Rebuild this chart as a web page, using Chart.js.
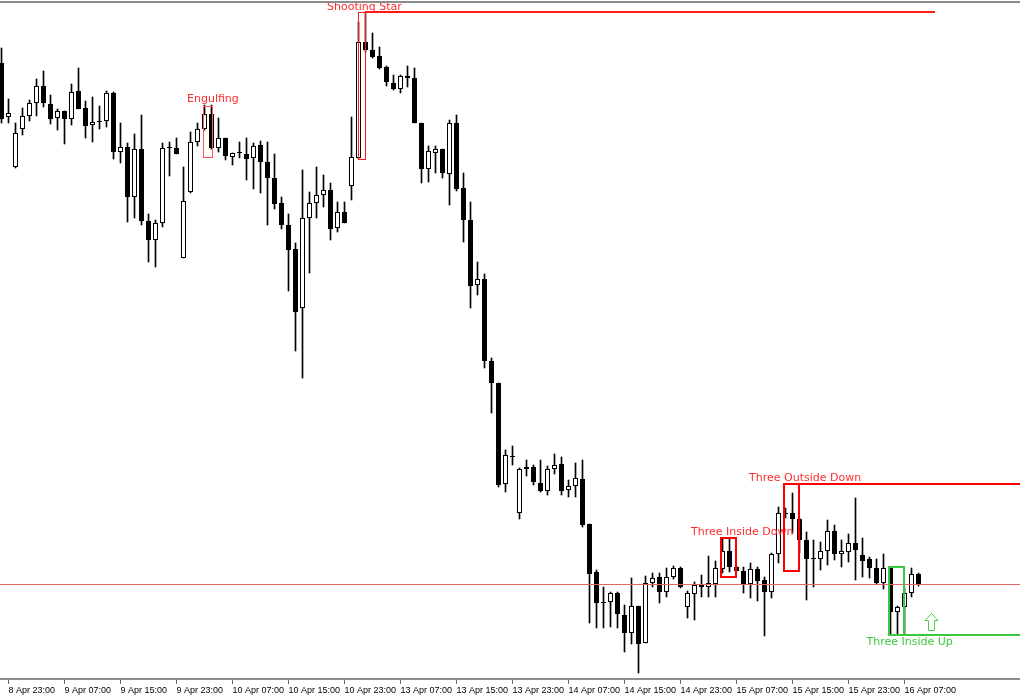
<!DOCTYPE html>
<html>
<head>
<meta charset="utf-8">
<title>H1 candles with patterns</title>
<script src="https://cdn.jsdelivr.net/npm/chart.js@4.4.1/dist/chart.umd.min.js"></script>
<style>
  html, body { margin: 0; padding: 0; background: #fff; }
</style>
</head>
<body>
<canvas id="chart" width="1020" height="700"></canvas>
<script>
// hourly bars, prices in points (the price scale is not shown on the original)
const open = [
  617, 563, 513, 551, 564, 577, 594, 576, 562, 569,
  561, 589, 572, 555, 558, 559, 587, 528, 533, 483,
  531, 459, 440, 457, 533, 532, 422, 488, 538, 551,
  566, 532, 542, 523, 528, 526, 522, 535, 518, 502,
  477, 455, 431, 372, 462, 477, 485, 490, 452, 468,
  494, 522, 638, 630, 624, 613, 597, 591, 604, 602,
  557, 511, 527, 531, 506, 557, 492, 460, 395, 401,
  319, 297, 196, 224, 167, 211, 213, 197, 189, 211,
  216, 190, 194, 201, 156, 108, 78, 78, 87, 65,
  47, 74, 37, 97, 103, 88, 103, 112, 73, 86,
  95, 93, 96, 111, 129, 113, 109, 96, 111, 100,
  88, 126, 167, 167, 161, 140, 122, 121, 129, 149,
  126, 128, 137, 125, 121, 112, 97, 113, 68, 73,
  87, 106
];
const high = [
  632, 581, 557, 572, 580, 601, 609, 585, 571, 569,
  596, 612, 579, 583, 574, 589, 588, 557, 537, 546,
  565, 466, 460, 537, 538, 542, 513, 548, 557, 575,
  575, 562, 542, 527, 538, 542, 537, 539, 538, 526,
  483, 466, 437, 510, 488, 513, 505, 497, 478, 478,
  563, 658, 667, 647, 633, 614, 605, 605, 614, 612,
  557, 534, 534, 531, 560, 565, 507, 478, 418, 406,
  322, 297, 230, 234, 212, 220, 215, 220, 214, 226,
  223, 200, 217, 220, 156, 110, 93, 88, 88, 75,
  102, 74, 104, 107, 107, 112, 114, 113, 89, 98,
  105, 124, 119, 141, 141, 114, 113, 117, 113, 103,
  127, 173, 172, 187, 162, 148, 140, 138, 160, 155,
  140, 146, 182, 142, 123, 121, 126, 113, 74, 92,
  112, 107
];
const low = [
  557, 557, 512, 545, 559, 564, 573, 556, 550, 536,
  555, 571, 542, 538, 551, 553, 521, 517, 458, 462,
  455, 418, 413, 453, 504, 526, 422, 487, 534, 550,
  531, 528, 520, 515, 522, 500, 491, 487, 455, 471,
  451, 389, 329, 302, 407, 462, 473, 440, 448, 457,
  480, 521, 628, 622, 611, 594, 590, 587, 593, 557,
  497, 498, 507, 502, 475, 489, 438, 372, 385, 312,
  267, 193, 188, 215, 161, 204, 195, 188, 185, 206,
  185, 183, 183, 153, 57, 52, 52, 53, 52, 28,
  36, 7, 37, 93, 77, 83, 101, 92, 62, 60,
  83, 83, 83, 107, 108, 109, 87, 82, 79, 44,
  82, 117, 162, 147, 127, 80, 93, 110, 115, 120,
  113, 118, 100, 103, 102, 96, 91, 45, 45, 45,
  83, 94
];
const close = [
  561, 567, 547, 564, 577, 594, 577, 561, 569, 561,
  588, 571, 554, 558, 559, 587, 528, 533, 483, 531,
  459, 440, 457, 532, 532, 526, 479, 538, 551, 566,
  532, 542, 524, 527, 527, 521, 534, 518, 502, 476,
  455, 430, 368, 462, 477, 485, 490, 451, 468, 457,
  523, 638, 630, 623, 612, 598, 591, 604, 602, 557,
  511, 529, 531, 507, 557, 491, 460, 394, 401, 319,
  297, 195, 225, 223, 211, 213, 198, 189, 211, 215,
  189, 194, 202, 155, 106, 77, 77, 87, 66, 47,
  74, 36, 97, 102, 88, 103, 112, 93, 87, 95,
  93, 97, 112, 129, 113, 109, 95, 111, 99, 88,
  126, 167, 166, 161, 140, 121, 121, 129, 149, 126,
  129, 137, 130, 119, 112, 97, 112, 68, 73, 87,
  106, 95
];

// bar index of each time label on the bottom axis
const tickIndex = [1, 9, 17, 25, 33, 41, 49, 57, 65, 73, 81, 89, 97, 105, 113, 121, 129];
const tickLabels = ['8 Apr 23:00', '9 Apr 07:00', '9 Apr 15:00', '9 Apr 23:00', '10 Apr 07:00',
  '10 Apr 15:00', '10 Apr 23:00', '13 Apr 07:00', '13 Apr 15:00', '13 Apr 23:00', '14 Apr 07:00',
  '14 Apr 15:00', '14 Apr 23:00', '15 Apr 07:00', '15 Apr 15:00', '15 Apr 23:00', '16 Apr 07:00'];

const supportLevel = 96;

// detected patterns: bar range, price range, label anchor
const patterns = [
  { name: 'Engulfing', from: 28.79, to: 30.07, top: 574, bottom: 523, color: '#ff5a5a', text: '#ff2d2d', lw: 1, label: [26.5, 578] },
  { name: 'Shooting Star', from: 50.93, to: 51.93, top: 668, bottom: 521, color: '#ff1a1a', text: '#ff2d2d', lw: 1, label: [46.5, 670], line: { at: 668, to: 133.36 } },
  { name: 'Three Inside Down', from: 102.79, to: 104.93, top: 142, bottom: 103, color: '#ff0000', text: '#ff2d2d', lw: 2, label: [98.5, 145] },
  { name: 'Three Outside Down', from: 111.79, to: 113.93, top: 196, bottom: 109, color: '#ff0000', text: '#ff2d2d', lw: 2, label: [106.79, 199], line: { at: 196 } },
  { name: 'Three Inside Up', from: 126.79, to: 128.93, top: 113, bottom: 45, color: '#3cc83c', text: '#3cc83c', lw: 2, label: [123.57, 35], line: { at: 45 } }
];
const arrowUp = { at: 132.86, top: 67, bottom: 50, color: '#4cd24c' };

const bodies = open.map((o, i) => ({ x: i, y: [o, close[i]] }));
const wicks = low.map((l, i) => ({ x: i, y: [l, high[i]] }));
const bodyColors = open.map((o, i) => close[i] > o ? '#ffffff' : '#000000');

const overlay = {
  id: 'overlay',
  afterDatasetsDraw(chart) {
    const { ctx, chartArea: area, scales: { x, y } } = chart;
    const px = v => Math.round(x.getPixelForValue(v));
    const py = v => Math.round(y.getPixelForValue(v));
    ctx.save();

    // support level
    ctx.strokeStyle = '#e46464';
    ctx.lineWidth = 1;
    ctx.beginPath();
    ctx.moveTo(area.left, py(supportLevel) + 0.5);
    ctx.lineTo(area.right, py(supportLevel) + 0.5);
    ctx.stroke();

    ctx.font = '11px "DejaVu Sans"';
    ctx.textAlign = 'left';
    ctx.textBaseline = 'alphabetic';
    patterns.forEach(p => {
      const l = px(p.from), r = px(p.to), t = py(p.top), b = py(p.bottom);
      const off = p.lw % 2 ? 0.5 : 0;
      ctx.strokeStyle = p.color;
      ctx.lineWidth = p.lw;
      ctx.strokeRect(l + off, t + off, r - l, b - t);
      if (p.line) {
        const ly = py(p.line.at);
        const end = p.line.to !== undefined ? px(p.line.to) : area.right;
        ctx.lineWidth = 2;
        ctx.beginPath();
        ctx.moveTo(r, ly);
        ctx.lineTo(end, ly);
        ctx.stroke();
      }
      ctx.fillStyle = p.text;
      ctx.fillText(p.name, x.getPixelForValue(p.label[0]), y.getPixelForValue(p.label[1]));
    });

    // hollow up arrow under the bullish pattern
    const ax = x.getPixelForValue(arrowUp.at), at = py(arrowUp.top) + 0.5, ab = py(arrowUp.bottom) + 0.5;
    ctx.strokeStyle = arrowUp.color;
    ctx.lineWidth = 1;
    ctx.beginPath();
    ctx.moveTo(ax, at);
    ctx.lineTo(ax + 6.5, at + 7);
    ctx.lineTo(ax + 3, at + 7);
    ctx.lineTo(ax + 3, ab);
    ctx.lineTo(ax - 3, ab);
    ctx.lineTo(ax - 3, at + 7);
    ctx.lineTo(ax - 6.5, at + 7);
    ctx.closePath();
    ctx.stroke();
    ctx.restore();
  },
  afterDraw(chart) {
    const { ctx, chartArea: area } = chart;
    ctx.save();
    ctx.fillStyle = '#8c8c8c';
    ctx.fillRect(0, 1, chart.width, 2);
    ctx.fillRect(0, area.bottom - 2, chart.width, 2);
    ctx.restore();
  }
};

new Chart(document.getElementById('chart'), {
  type: 'bar',
  data: {
    datasets: [
      {
        data: bodies,
        backgroundColor: bodyColors,
        borderColor: '#000',
        borderWidth: 1,
        borderSkipped: false,
        barThickness: 5,
        minBarLength: 1,
        grouped: false,
        inflateAmount: 0
      },
      {
        data: wicks,
        backgroundColor: '#000',
        borderWidth: 0,
        barThickness: 1,
        grouped: false
      }
    ]
  },
  options: {
    responsive: false,
    animation: false,
    layout: { padding: 0 },
    plugins: { legend: { display: false }, tooltip: { enabled: false } },
    scales: {
      x: {
        type: 'linear',
        offset: false,
        min: -1.5 / 7,
        max: 1018.5 / 7,
        afterFit: s => { s.height = 20; },
        afterBuildTicks: s => { s.ticks = tickIndex.map(v => ({ value: v })); },
        grid: { offset: false, drawOnChartArea: false, drawTicks: true, tickLength: 4, color: '#666' },
        border: { display: false },
        ticks: {
          autoSkip: false,
          maxRotation: 0,
          align: 'start',
          padding: 1,
          color: '#000',
          font: { family: 'Liberation Sans', size: 9 },
          callback: (v, i) => tickLabels[i]
        }
      },
      y: {
        display: false,
        min: 0,
        max: 680
      }
    }
  },
  plugins: [overlay]
});
</script>
</body>
</html>
